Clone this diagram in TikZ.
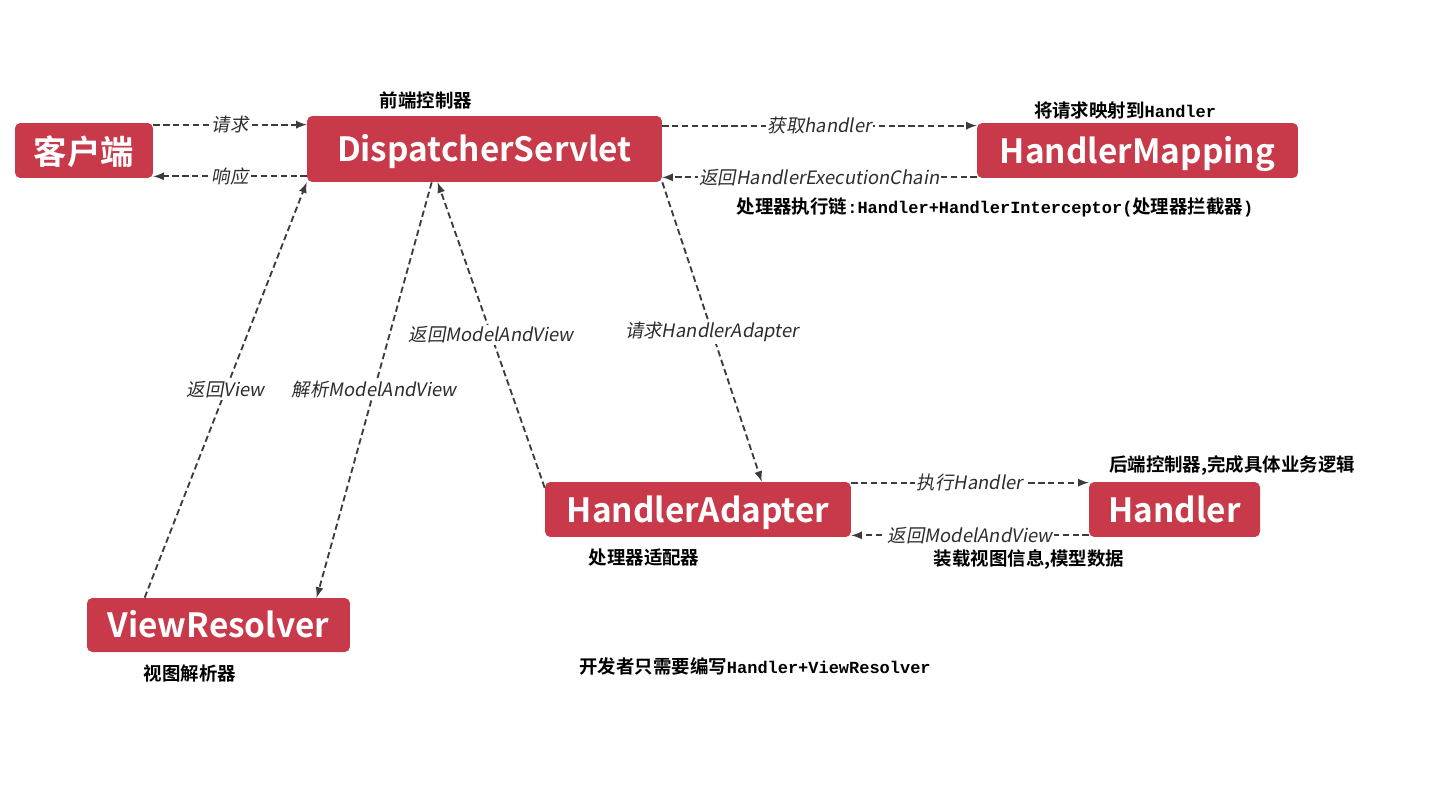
\documentclass[tikz,border=0pt]{standalone}
\usepackage{fontspec}
\setmainfont{Noto Sans CJK SC}
\newfontfamily\boxfont{Noto Sans CJK SC Bold}
\newfontfamily\lblfont{Noto Sans CJK SC}[FakeSlant=0.18]
\newfontfamily\annofont{Noto Sans CJK SC Bold}
\newfontfamily\annomono{Liberation Mono Bold}[Scale=0.92]
\usetikzlibrary{calc}
\definecolor{boxred}{RGB}{200,57,73}
\definecolor{flowgray}{RGB}{60,60,60}
\definecolor{lbltext}{RGB}{45,45,45}
\newcommand{\mono}[1]{{\annomono #1}}
\tikzset{
  >=latex,
  comp/.style={fill=boxred, rounded corners=3pt, text=white, inner sep=0pt,
    minimum height=1.1cm, text depth=0.12ex,
    font=\boxfont\fontsize{19}{23}\selectfont},
  flow/.style={->, flowgray, line width=1.05pt, dash pattern=on 3.6pt off 2pt},
  lbl/.style={fill=white, inner sep=1pt, text=lbltext,
    font=\lblfont\fontsize{10.5}{12}\selectfont},
  anno/.style={inner sep=0pt, font=\annofont\fontsize{10.5}{12}\selectfont}
}

\begin{document}
\begin{tikzpicture}[x=0.02cm, y=-0.02cm]
  \useasboundingbox[fill=white] (0,0) rectangle (1439,790);

  % components
  \node[comp, minimum width=2.76cm] (cl) at (84,150.5) {客户端};
  \node[comp, minimum width=7.1cm, minimum height=1.32cm] (ds) at (484.5,149) {DispatcherServlet};
  \node[comp, minimum width=6.42cm] (hm) at (1137.5,150.5) {HandlerMapping};
  \node[comp, minimum width=6.12cm] (ha) at (698,509.5) {HandlerAdapter};
  \node[comp, minimum width=3.42cm] (hd) at (1174.5,509.5) {Handler};
  \node[comp, minimum width=5.26cm, minimum height=1.08cm] (vr) at (218.5,625) {ViewResolver};

  % notes
  \node[anno] (dsnote) at (426,100) {前端控制器};
  \node[anno] (hmnote) at (1125,111) {将请求映射到\mono{Handler}};
  \node[anno] (chainnote) at (995,207) {处理器执行链\mono{:Handler+HandlerInterceptor(}处理器拦截器\mono{)}};
  \node[anno] (hdnote) at (1232,466) {后端控制器,完成具体业务逻辑};
  \node[anno] (hanote) at (644,558) {处理器适配器};
  \node[anno] (mavnote) at (1029,560) {装载视图信息,模型数据};
  \node[anno] (vrnote) at (190,674) {视图解析器};
  \node[anno] (devnote) at (755,666) {开发者只需要编写\mono{Handler+ViewResolver}};

  % request / response
  \draw[flow] ($(cl.north east)+(0,2)$) -- ($(cl.north east -| ds.west)+(0,2)$) node[lbl, midway] {请求};
  \draw[flow] ($(cl.south east -| ds.west)+(0,-2)$) -- ($(cl.south east)+(0,-2)$) node[lbl, midway] {响应};

  % mapping
  \draw[flow] ($(hm.north west -| ds.east)+(0,3)$) -- ($(hm.north west)+(0,3)$) node[lbl, midway] {获取handler};
  \draw[flow] ($(hm.south west)+(0,-1)$) -- ($(hm.south west -| ds.east)+(0,-1)$) node[lbl, midway] {返回HandlerExecutionChain};

  % adapter
  \draw[flow] (ds.south east) -- ($(ha.north west)+(217,0)$) node[lbl, midway] {请求HandlerAdapter};
  \draw[flow] ($(ha.north west)+(0,6)$) -- ($(ds.south west)+(131,0)$) node[lbl, midway] {返回ModelAndView};
  \draw[flow] ($(ha.north east)+(0,1)$) -- ($(ha.north east -| hd.west)+(0,1)$) node[lbl, midway] {执行Handler};
  \draw[flow] ($(hd.south west)+(0,-2)$) -- ($(hd.south west -| ha.east)+(0,-2)$) node[lbl, midway] {返回ModelAndView};

  % view resolving
  \draw[flow] ($(ds.south west)+(125,0)$) -- ($(vr.north west)+(230,0)$) node[lbl, midway] {解析ModelAndView};
  \draw[flow] ($(vr.north west)+(58,0)$) -- (ds.south west) node[lbl, midway] {返回View};
\end{tikzpicture}
\end{document}
